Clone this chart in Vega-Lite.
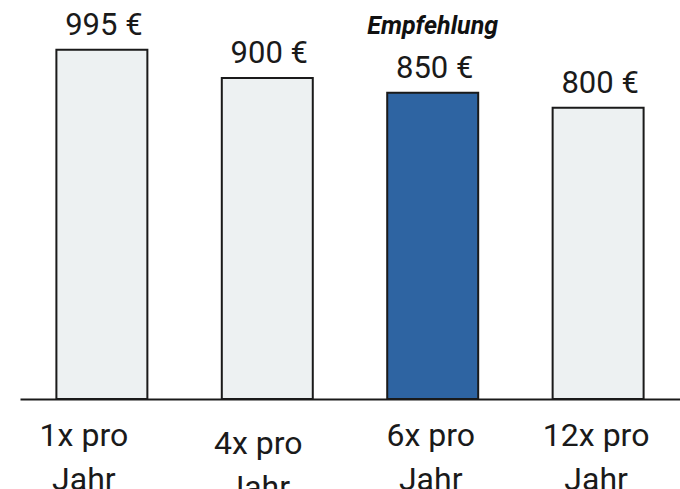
{
  "$schema": "https://vega.github.io/schema/vega-lite/v6.json",
  "width": 660,
  "height": 399,
  "autosize": "none",
  "padding": {"left": 20, "top": 0, "right": 0, "bottom": 90},
  "background": "white",
  "config": {"view": {"stroke": null}, "font": "Roboto"},
  "data": {
    "values": [
      {"Rhythmus": "1x pro Jahr", "Preis": 995, "Empfohlen": false},
      {"Rhythmus": "4x pro Jahr", "Preis": 900, "Empfohlen": false},
      {"Rhythmus": "6x pro Jahr", "Preis": 850, "Empfohlen": true},
      {"Rhythmus": "12x pro Jahr", "Preis": 800, "Empfohlen": false}
    ]
  },
  "transform": [{"calculate": "datum.Preis + ' €'", "as": "Beschriftung"}],
  "encoding": {
    "x": {
      "field": "Rhythmus",
      "type": "nominal",
      "sort": null,
      "scale": {"paddingInner": 0.45, "paddingOuter": 0.22},
      "axis": {
        "title": null,
        "labelAngle": 0,
        "ticks": false,
        "domain": true,
        "domainColor": "#1a1a1a",
        "domainWidth": 2,
        "labelFont": "Roboto",
        "labelFontSize": 32,
        "labelColor": "#1a1a1a",
        "labelLineHeight": 44,
        "labelBaseline": "top",
        "labelExpr": "[replace(datum.label, ' Jahr', ''), 'Jahr']",
        "labelOffset": {
          "condition": [
            {"test": "datum.value === '1x pro Jahr'", "value": -18},
            {"test": "datum.value === '4x pro Jahr'", "value": -9}
          ],
          "value": -2
        },
        "labelPadding": {
          "condition": {"test": "datum.value === '4x pro Jahr'", "value": 29},
          "value": 21
        }
      }
    },
    "y": {
      "field": "Preis",
      "type": "quantitative",
      "scale": {"domain": [-182, 1163]},
      "axis": null
    }
  },
  "layer": [
    {
      "mark": {"type": "bar", "stroke": "#1a1a1a", "strokeWidth": 2},
      "encoding": {
        "y2": {"datum": -182},
        "fill": {
          "condition": {"test": "datum.Empfohlen", "value": "#2e64a2"},
          "value": "#edf1f2"
        }
      }
    },
    {
      "mark": {"type": "text", "baseline": "alphabetic", "dy": -15, "dx": 2, "fontSize": 31, "color": "#1a1a1a"},
      "encoding": {"text": {"field": "Beschriftung"}}
    },
    {
      "transform": [{"filter": "datum.Empfohlen"}],
      "mark": {"type": "text", "baseline": "alphabetic", "dy": -59, "fontSize": 25, "fontStyle": "italic", "fontWeight": "bold", "color": "#111111", "text": "Empfehlung"},
      "encoding": {}
    }
  ]
}
